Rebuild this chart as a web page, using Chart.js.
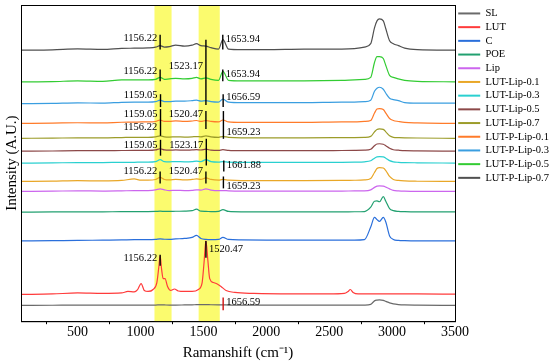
<!DOCTYPE html>
<html>
<head>
<meta charset="utf-8">
<script src="https://cdn.jsdelivr.net/npm/chart.js@4.4.0/dist/chart.umd.min.js"></script>
<style>
  body { margin: 0; background: #fff; }
  #wrap { width: 550px; height: 362px; }
</style>
</head>
<body>
<div id="wrap"><canvas id="chart"></canvas></div>
<script>
// Raman shift (cm-1) sampled points, shared by most spectra
const shift = [50, 300, 500, 700, 850, 950, 1005, 1060, 1120, 1156, 1190, 1230, 1280, 1350, 1410, 1445, 1480, 1520, 1560, 1620,
  1655, 1700, 1800, 2000, 2300, 2600, 2700, 2780, 2830, 2860, 2880, 2900, 2930, 2950, 2980, 3010, 3050, 3100, 3200, 3500];

// stacked intensities (A.U., offset included)
const slY = [16, 16.1, 16.2, 16.2, 16.2, 16.3, 16.3, 16.3, 16.3, 16.5, 16.4, 16.3, 16.3, 16.4, 16.5, 16.7, 16.8, 16.8, 16.6, 16.5,
  16.5, 16.3, 16.2, 16.2, 16.2, 16.2, 16.2, 16.3, 17, 20.5, 21.3, 21.5, 21, 20, 18.5, 17.5, 16.8, 16.4, 16.2, 16];
const cY = [81, 81.3, 81.5, 81.8, 82, 82.3, 82.3, 82.2, 82.5, 83, 82.7, 82.5, 83, 83.5, 84.5, 86.5, 83.5, 82.5, 82.3, 82.5,
  84.5, 82.5, 82, 81.8, 81.8, 81.8, 81.8, 82.3, 95, 104.7, 102.5, 100.7, 104.7, 100, 86, 82.5, 81.5, 81.2, 81, 81];
const poeY = [110, 110.2, 110.3, 110.3, 110.5, 110.5, 110.6, 110.6, 110.7, 111, 110.8, 110.7, 110.9, 111, 111.5, 113, 111, 110.8, 110.5, 110.7,
  112.5, 110.7, 110.3, 110.3, 110.3, 110.3, 110.4, 110.6, 115, 121, 121.3, 120.5, 125.7, 121, 113.5, 111.5, 110.8, 110.5, 110.3, 110.3];
const lipY = [131, 131.2, 131.5, 131.3, 131.5, 131.7, 131.7, 131.8, 132.5, 133.5, 132.5, 131.8, 132, 131.8, 132, 132.5, 132.3, 133.5, 132.3, 131.7,
  131.8, 131.5, 131.3, 131.3, 131.3, 131.3, 131.4, 131.5, 132.5, 135, 136.2, 136.5, 136.2, 135.3, 133.5, 132, 131.5, 131.2, 131, 131];
const lutLip01Y = [141, 141.3, 141.8, 141.5, 142, 143.5, 142.3, 142.3, 143, 145, 143, 142.5, 143, 142.5, 143, 143.5, 143, 144.5, 143, 142.3,
  143, 142.3, 141.8, 141.8, 141.8, 142, 142.2, 142.5, 144, 150, 154, 155, 154.5, 152, 146, 143, 142, 141.5, 141.2, 141];
const lutLip03Y = [159.5, 159.7, 160, 160, 160.3, 160.3, 160.5, 160.5, 161, 163, 161, 160.8, 161, 160.8, 161, 161.5, 161, 163, 161, 160.5,
  161, 160.5, 160.2, 160.2, 160.2, 160.3, 160.5, 160.8, 161.8, 164.5, 165.8, 166, 165.8, 164.5, 162, 160.8, 160.3, 160, 159.8, 159.5];
const lutLip05Y = [171.5, 171.7, 172, 172, 172.2, 172.3, 172.3, 172.3, 172.8, 174, 172.8, 172.5, 172.8, 172.5, 172.8, 173, 172.7, 173.5, 172.5, 172.3,
  173, 172.3, 172, 172, 172, 172.2, 172.3, 172.5, 173.5, 177, 178.8, 179, 178.5, 177, 174.5, 173, 172.5, 172, 171.8, 171.5];
const lutLip07Y = [184.5, 184.7, 185, 185, 185.3, 185.5, 185.5, 185.5, 186, 187, 186, 185.8, 186, 185.8, 186, 186.3, 186, 187, 186, 185.5,
  186.3, 185.5, 185, 185, 185, 185.2, 185.3, 185.5, 186.5, 191, 193.5, 194, 193.5, 191, 187, 185.5, 185.2, 185, 184.8, 184.5];
const lutPLip01Y = [199.5, 199.8, 200.2, 200, 200.7, 200.8, 201, 201, 201.5, 203, 201.5, 201.5, 202, 201.5, 202, 202.5, 201.5, 202.5, 201.5, 201,
  203, 201, 200.5, 200.5, 200.5, 201, 201, 201.5, 202.5, 210, 214, 214.5, 213.5, 210, 204.5, 202.5, 201.5, 200.5, 200, 199.5];
const lutPLip03Y = [219.5, 219.8, 220.3, 220, 220.8, 221, 221, 221, 221.5, 223, 221.5, 221.5, 222, 222, 222.5, 223, 222, 222.5, 221.5, 221,
  224, 221, 220.5, 220.5, 220.5, 221, 221, 221.5, 223, 232, 235, 236, 234, 230, 225, 223.5, 222.5, 220.5, 220, 220];
const lutPLip05Y = [241.5, 241.7, 242.5, 242, 243.5, 243.5, 243.5, 243.5, 244, 246, 244, 244.5, 245, 244.5, 245, 246, 244.5, 245.5, 244, 243,
  252, 243, 242.5, 242.5, 242.5, 243, 243.5, 244, 246, 261, 267, 267, 265, 258, 248, 246, 244.5, 243, 242, 241.5];
const lutPLip07Y = [273.5, 273.8, 274.7, 274.2, 275.2, 275.4, 275.5, 275.7, 276.5, 278, 276.5, 277, 278.5, 277.5, 278.5, 280, 278, 277.5, 276, 274.5,
  284, 274.5, 274, 274, 274.5, 274.5, 275, 276.5, 280, 296, 303, 305, 303, 295, 283, 280, 278, 275.5, 274, 273.5];

// LUT has sharp bands, sampled on its own grid
const lutShift = [50, 300, 500, 700, 850, 900, 950, 975, 1005, 1030, 1060, 1100, 1130, 1145, 1156, 1168, 1180, 1195, 1215, 1240,
  1270, 1300, 1350, 1410, 1460, 1490, 1505, 1520, 1535, 1550, 1580, 1610, 1640, 1680, 1750, 1900, 2200, 2500, 2620, 2650,
  2668, 2690, 2730, 2900, 3200, 3500];
const lutY = [27, 27.5, 28.5, 28, 28.5, 30, 29.5, 31.5, 38, 31, 30, 32, 39, 54, 66, 52, 43, 43, 35, 31,
  32.5, 30.5, 30, 30, 32, 39, 59, 81, 62, 43, 39, 37.5, 35, 31, 29, 28, 27.5, 27.5, 28, 30,
  32, 29, 27.5, 27.5, 27.5, 27.3];

const names = ['SL', 'LUT', 'C', 'POE', 'Lip', 'LUT-Lip-0.1', 'LUT-Lip-0.3', 'LUT-Lip-0.5', 'LUT-Lip-0.7',
  'LUT-P-Lip-0.1', 'LUT-P-Lip-0.3', 'LUT-P-Lip-0.5', 'LUT-P-Lip-0.7'];
const colors = ['#6a6a6a', '#ff3b3b', '#2a6fdb', '#22a070', '#cc66ee', '#e9a727', '#2ad0d0', '#8c4848', '#9c9c2a',
  '#ff7b2a', '#3a9ee0', '#33cc33', '#505050'];
const series = [slY, lutY, cY, poeY, lipY, lutLip01Y, lutLip03Y, lutLip05Y, lutLip07Y, lutPLip01Y, lutPLip03Y, lutPLip05Y, lutPLip07Y];

const xTicks = [500, 1000, 1500, 2000, 2500, 3000, 3500];
const xMinor = [250, 750, 1250, 1750, 2250, 2750, 3250];
const bands = [[1111, 1247], [1462, 1630]];

// peak marks: [shift, yLow, yHigh, text, side, textY]
const peakMarks = [
  [1156, 274, 289, '1156.22', 'L', 285],
  [1520, 218, 284, null],
  [1654, 274, 289, '1653.94', 'R', 284],
  [1156, 242, 254, '1156.22', 'L', 252],
  [1520, null, null, '1523.17', 'L', 257],
  [1654, 242, 254, '1653.94', 'R', 249],
  [1159, 216, 229, '1159.05', 'L', 228],
  [1657, 216, 229, '1656.59', 'R', 226],
  [1159, 187, 214, '1159.05', 'L', 209],
  [1520, 194, 212, '1520.47', 'L', 209],
  [1659, 184, 212, '1659.23', 'R', 191],
  [1156, null, null, '1156.22', 'L', 196],
  [1159, 167, 183, '1159.05', 'L', 178],
  [1523, 157, 184, '1523.17', 'L', 178],
  [1662, 151, 162, '1661.88', 'R', 157],
  [1156, 139, 151, '1156.22', 'L', 151],
  [1520, 139, 151, '1520.47', 'L', 151],
  [1659, 134, 146, '1659.23', 'R', 136],
  [1156, 56, 67, '1156.22', 'L', 64],
  [1520, 64, 81, '1520.47', 'R', 73],
  [1657, 11, 24, '1656.59', 'R', 19, '#d01010']
];

const serif = 'Liberation Serif';

const datasets = series.map((ys, i) => {
  const xs = i === 1 ? lutShift : shift;
  return {
    label: names[i],
    data: ys.map((y, k) => ({x: xs[k], y: y})),
    borderColor: colors[i],
    backgroundColor: colors[i],
    borderWidth: 1.2,
    pointRadius: 0,
    cubicInterpolationMode: 'monotone'
  };
});

const decorPlugin = {
  id: 'decor',
  beforeDatasetsDraw(chart) {
    const {ctx, chartArea, scales: {x}} = chart;
    ctx.save();
    ctx.fillStyle = '#fbfb6e';
    bands.forEach(b => {
      const x1 = x.getPixelForValue(b[0]);
      const x2 = x.getPixelForValue(b[1]);
      ctx.fillRect(x1, chartArea.top, x2 - x1, chartArea.bottom - chartArea.top);
    });
    ctx.restore();
  },
  afterDatasetsDraw(chart) {
    const {ctx, scales: {x, y}} = chart;
    ctx.save();
    ctx.font = '10.5px "' + serif + '"';
    ctx.textBaseline = 'middle';
    peakMarks.forEach(m => {
      const px = x.getPixelForValue(m[0]);
      if (m[1] !== null) {
        ctx.strokeStyle = m[6] || '#000';
        ctx.lineWidth = 1.4;
        ctx.beginPath();
        ctx.moveTo(px, y.getPixelForValue(m[1]));
        ctx.lineTo(px, y.getPixelForValue(m[2]));
        ctx.stroke();
      }
      if (m[3]) {
        ctx.fillStyle = '#000';
        ctx.textAlign = m[4] === 'L' ? 'right' : 'left';
        ctx.fillText(m[3], m[4] === 'L' ? px - 3 : px + 3, y.getPixelForValue(m[5]));
      }
    });
    ctx.restore();
  },
  afterDraw(chart) {
    const {ctx, chartArea, scales: {x}} = chart;
    ctx.save();
    ctx.strokeStyle = '#000';
    ctx.lineWidth = 1;
    ctx.strokeRect(chartArea.left + 0.5, chartArea.top + 0.5, chartArea.right - chartArea.left, chartArea.bottom - chartArea.top);
    ctx.beginPath();
    xMinor.forEach(v => {
      const px = Math.round(x.getPixelForValue(v)) + 0.5;
      ctx.moveTo(px, chartArea.bottom);
      ctx.lineTo(px, chartArea.bottom + 3);
    });
    ctx.stroke();
    ctx.restore();
  }
};

new Chart(document.getElementById('chart'), {
  type: 'line',
  data: {datasets: datasets},
  options: {
    responsive: true,
    maintainAspectRatio: false,
    devicePixelRatio: 1,
    animation: false,
    layout: {padding: {left: 3, top: 5, right: 0, bottom: 0}},
    scales: {
      x: {
        type: 'linear',
        min: 50,
        max: 3500,
        afterBuildTicks: (scale) => { scale.ticks = xTicks.map(v => ({value: v})); },
        grid: {display: false, drawTicks: false},
        border: {display: true, color: '#000', width: 1},
        ticks: {
          color: '#000', padding: 3, maxRotation: 0, autoSkip: false,
          font: {family: serif, size: 14},
          callback: (v) => String(v)
        },
        title: {display: true, text: 'Ramanshift (cm\u207B\u00B9)', color: '#000', padding: 0, font: {family: serif, size: 15}}
      },
      y: {
        min: 0,
        max: 319,
        grid: {display: false, drawTicks: false},
        border: {display: true, color: '#000', width: 1},
        ticks: {display: false},
        title: {display: true, text: 'Intensity (A.U.)', color: '#000', padding: 0, font: {family: serif, size: 15}}
      }
    },
    plugins: {
      legend: {
        position: 'right',
        align: 'start',
        maxWidth: 95,
        labels: {
          usePointStyle: true,
          pointStyle: 'line',
          pointStyleWidth: 22,
          padding: 3.2,
          color: '#000',
          font: {family: serif, size: 10.5},
          generateLabels: (chart) => {
            const items = Chart.defaults.plugins.legend.labels.generateLabels(chart);
            items.forEach(it => { it.lineWidth = 2; });
            return items;
          }
        }
      },
      tooltip: {enabled: false}
    }
  },
  plugins: [decorPlugin]
});
</script>
</body>
</html>
